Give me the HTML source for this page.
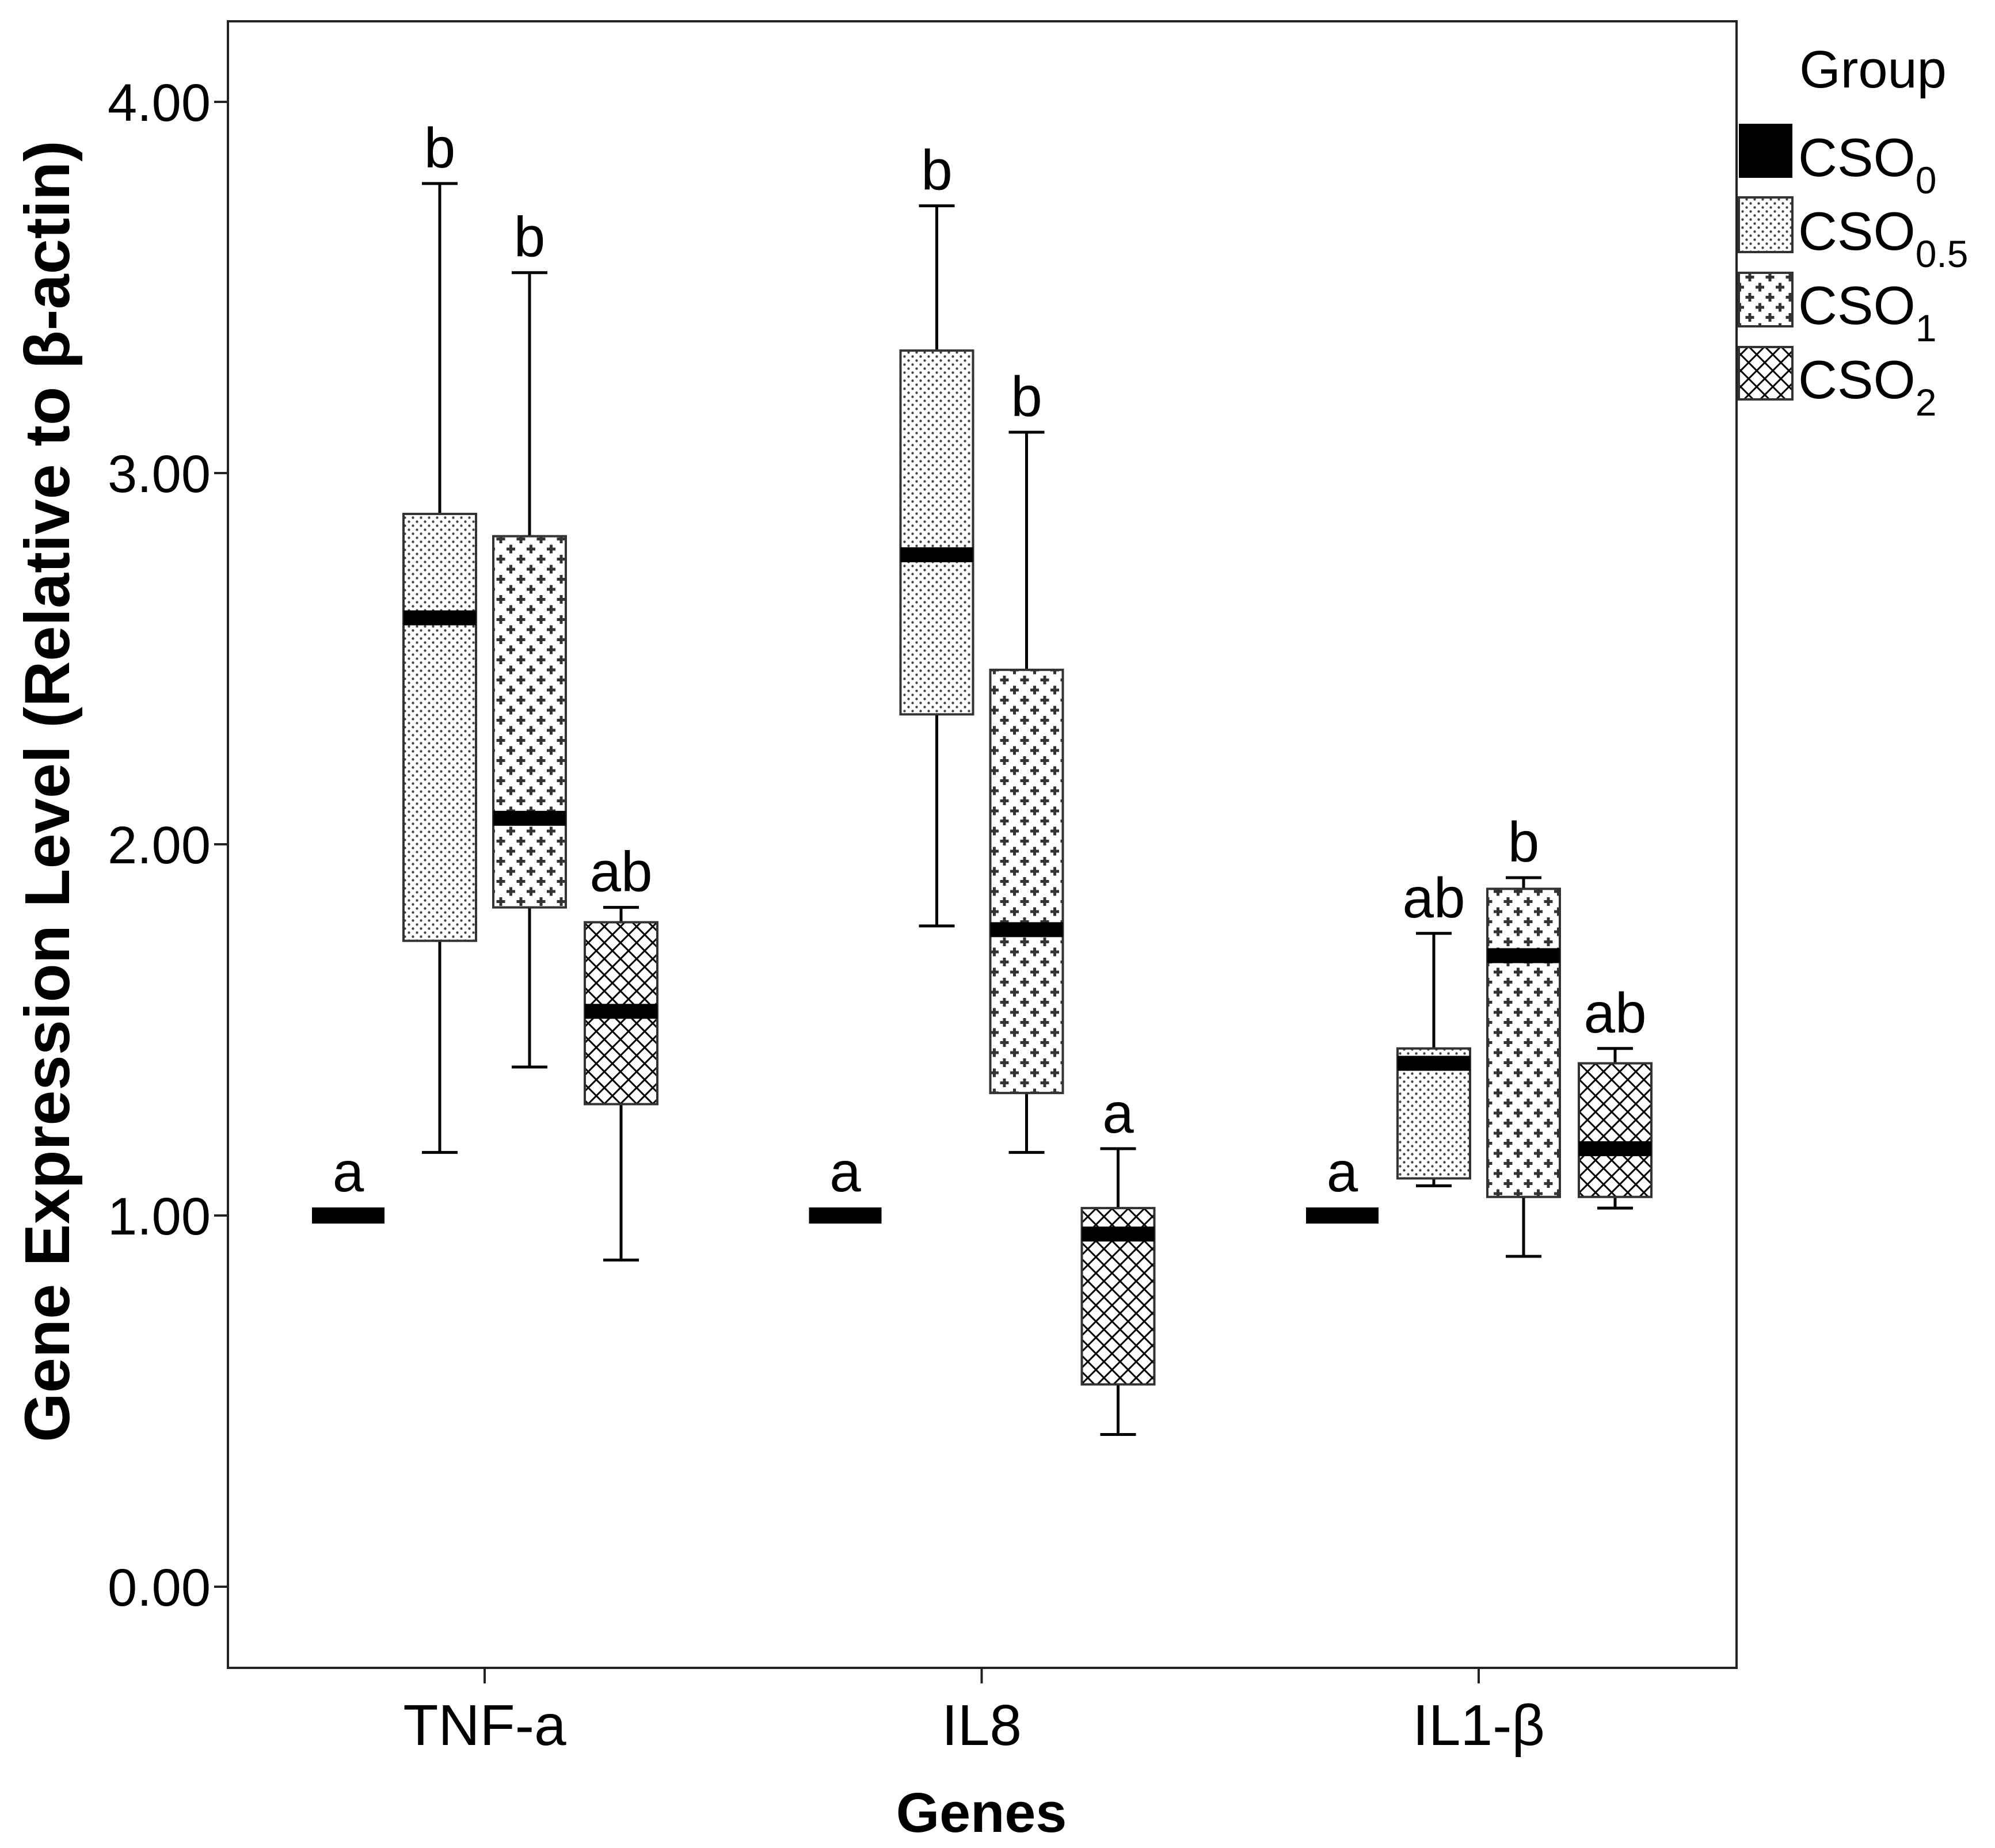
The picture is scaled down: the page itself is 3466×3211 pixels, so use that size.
<!DOCTYPE html>
<html><head><meta charset="utf-8"><style>
html,body{margin:0;padding:0;background:#fff;}
svg{display:block;font-family:"Liberation Sans",Arial,sans-serif;}
</style></head><body>
<svg id="chart" width="3466" height="3211" viewBox="0 0 3466 3211" xmlns="http://www.w3.org/2000/svg">
<defs>
<pattern id="p-dots" patternUnits="userSpaceOnUse" width="14" height="14">
<rect width="14" height="14" fill="#fff"/>
<circle cx="3.5" cy="3.5" r="2.2" fill="#444"/><circle cx="10.5" cy="10.5" r="2.2" fill="#444"/>
</pattern>
<pattern id="p-plus" patternUnits="userSpaceOnUse" width="35" height="35">
<rect width="35" height="35" fill="#fff"/>
<g fill="#333"><rect x="5" y="6.5" width="15" height="5"/><rect x="10" y="1.5" width="5" height="15"/>
<rect x="22.5" y="24" width="15" height="5"/><rect x="27.5" y="19" width="5" height="15"/>
<rect x="-12.5" y="24" width="15" height="5"/><rect x="-7.5" y="19" width="5" height="15"/></g>
</pattern>
<pattern id="p-cross" patternUnits="userSpaceOnUse" width="28" height="28">
<rect width="28" height="28" fill="#fff"/>
<path d="M0 0L28 28M28 0L0 28M-14 14L0 28M14 -14L42 14M-14 14L14 -14M14 42L42 14" stroke="#000" stroke-width="3" fill="none"/>
</pattern>
</defs>
<rect x="396" y="37" width="2621" height="2861" fill="none" stroke="#222" stroke-width="4"/>
<g id="yaxis"></g>
<g id="xaxis"></g>
<g id="boxes"></g>
<text transform="translate(120,1375) rotate(-90)" text-anchor="middle" font-size="110" font-weight="bold">Gene Expression Level (Relative to β-actin)</text>
<text x="1705" y="3183" text-anchor="middle" font-size="97" font-weight="bold">Genes</text>
<g>
<text x="3254" y="152" text-anchor="middle" font-size="92">Group</text>
<rect x="3021" y="215" width="93" height="94" fill="#000"/>
<rect x="3021" y="343" width="93" height="95" fill="url(#p-dots)" stroke="#333" stroke-width="4"/>
<rect x="3021" y="474" width="93" height="93" fill="url(#p-plus)" stroke="#333" stroke-width="4"/>
<rect x="3021" y="603" width="93" height="91" fill="url(#p-cross)" stroke="#333" stroke-width="4"/>
<text x="3124" y="306" font-size="94">CSO<tspan font-size="66" dy="30">0</tspan></text>
<text x="3124" y="434" font-size="94">CSO<tspan font-size="66" dy="30">0.5</tspan></text>
<text x="3124" y="563" font-size="94">CSO<tspan font-size="66" dy="30">1</tspan></text>
<text x="3124" y="692" font-size="94">CSO<tspan font-size="66" dy="30">2</tspan></text>
</g>
</svg>
<script>
const categories = ["TNF-a", "IL8", "IL1-β"];
const groups = ["CSO0", "CSO0.5", "CSO1", "CSO2"];
const yTicks = [0, 1, 2, 3, 4];
const yTickLabels = ["0.00", "1.00", "2.00", "3.00", "4.00"];
// per category: [CSO0, CSO0.5, CSO1, CSO2]
const whiskerLow = [[1.00,1.17,1.40,0.88],[1.00,1.78,1.17,0.41],[1.00,1.08,0.89,1.02]];
const q1 =         [[1.00,1.74,1.83,1.30],[1.00,2.35,1.33,0.545],[1.00,1.10,1.05,1.05]];
const medians =    [[1.00,2.61,2.07,1.55],[1.00,2.78,1.77,0.95],[1.00,1.41,1.70,1.18]];
const q3 =         [[1.00,2.89,2.83,1.79],[1.00,3.33,2.47,1.02],[1.00,1.45,1.88,1.41]];
const whiskerHigh =[[1.00,3.78,3.54,1.83],[1.00,3.72,3.11,1.18],[1.00,1.76,1.91,1.45]];
const letters =    [["a","b","b","ab"],["a","b","b","a"],["a","ab","b","ab"]];

const NS = "http://www.w3.org/2000/svg";
const y = v => 2757 - 645 * v;
const xCat = i => 842 + i * 863.5;
const groupOffsets = [-237, -78, 78, 237];
const xBox = (i, g) => xCat(i) + groupOffsets[g];
const fills = ["#000", "url(#p-dots)", "url(#p-plus)", "url(#p-cross)"];
function mk(tag, attrs, parent) {
  const e = document.createElementNS(NS, tag);
  for (const k in attrs) e.setAttribute(k, attrs[k]);
  parent.appendChild(e);
  return e;
}
const ya = document.getElementById("yaxis");
yTicks.forEach((t, i) => {
  const l = mk("line", {x1: 372, x2: 396, y1: y(t), y2: y(t), stroke: "#222", "stroke-width": 4}, ya);
  
  
  const tx = mk("text", {x: 366, y: y(t) + 33, "text-anchor": "end", "font-size": 92}, ya);
  
  
  tx.textContent = yTickLabels[i];
});
const xa = document.getElementById("xaxis");
categories.forEach((c, i) => {
  const l = mk("line", {x1: xCat(i), x2: xCat(i), y1: 2898, y2: 2925, stroke: "#222", "stroke-width": 4}, xa);
  
  
  const tx = mk("text", {x: xCat(i), y: 3032, "text-anchor": "middle", "font-size": 100}, xa);
  
  
  tx.textContent = c;
});
const bx = document.getElementById("boxes");
const W = 126, CAP = 62;
categories.forEach((c, i) => {
  groups.forEach((gname, g) => {
    const cx = xBox(i, g);
    const grp = mk("g", {}, bx);
    
    
    const hi = whiskerHigh[i][g], lo = whiskerLow[i][g];
    let topY;
    if (g === 0) {
      mk("rect", {x: cx - W/2, y: y(medians[i][g]) - 14, width: W, height: 28, fill: "#000"}, grp);
      topY = y(medians[i][g]) - 14;
    } else {
      mk("line", {x1: cx, x2: cx, y1: y(hi), y2: y(lo), stroke: "#000", "stroke-width": 5}, grp);
      mk("line", {x1: cx - CAP/2, x2: cx + CAP/2, y1: y(hi), y2: y(hi), stroke: "#000", "stroke-width": 5}, grp);
      mk("line", {x1: cx - CAP/2, x2: cx + CAP/2, y1: y(lo), y2: y(lo), stroke: "#000", "stroke-width": 5}, grp);
      mk("rect", {x: cx - W/2, y: y(q3[i][g]), width: W, height: y(q1[i][g]) - y(q3[i][g]), fill: fills[g], stroke: "#333", "stroke-width": 4}, grp);
      mk("rect", {x: cx - W/2, y: y(medians[i][g]) - 13, width: W, height: 26, fill: "#000"}, grp);
      topY = y(hi);
    }
    const lt = mk("text", {x: cx, y: topY - 28, "text-anchor": "middle", "font-size": 98}, grp);
    
    
    lt.textContent = letters[i][g];
  });
});
</script>
</body></html>
